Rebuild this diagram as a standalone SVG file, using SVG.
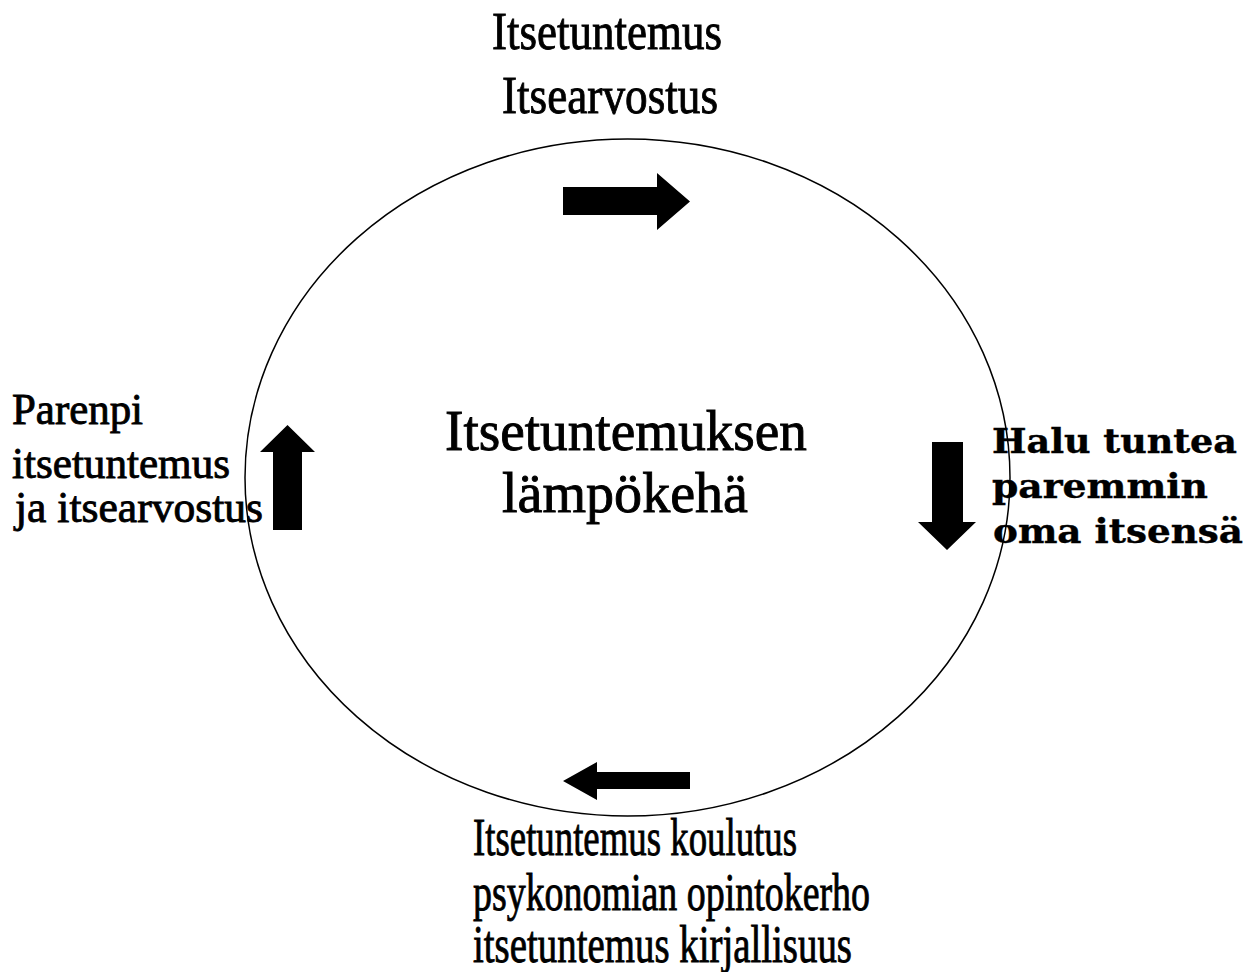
<svg xmlns="http://www.w3.org/2000/svg" width="1258" height="972" viewBox="0 0 1258 972">
  <style>
    .lbl { font-family: "Liberation Serif", "Times New Roman", serif; fill: #000; stroke: #000; stroke-width: 0.9; }
    .bold { font-family: "DejaVu Serif", "Liberation Serif", serif; font-weight: bold; fill: #000; stroke: #000; stroke-width: 0.4; }
    .ring { fill: none; stroke: #000; stroke-width: 1.5; }
    .arrow { fill: #000; stroke: none; }
  </style>
  <rect width="1258" height="972" fill="#fff"/>

  <!-- central cycle -->
  <g id="cycle">
    <ellipse class="ring" cx="627.5" cy="477.5" rx="382.5" ry="338.5"/>
    <text class="lbl" font-size="56" x="445" y="450" textLength="362" lengthAdjust="spacingAndGlyphs">Itsetuntemuksen</text>
    <text class="lbl" font-size="56" x="502" y="512" textLength="246" lengthAdjust="spacingAndGlyphs">lämpökehä</text>
  </g>

  <!-- top label -->
  <g id="top-label">
    <text class="lbl" font-size="53" x="492" y="49" textLength="230" lengthAdjust="spacingAndGlyphs">Itsetuntemus</text>
    <text class="lbl" font-size="53" x="502" y="113" textLength="216" lengthAdjust="spacingAndGlyphs">Itsearvostus</text>
  </g>

  <!-- right label -->
  <g id="right-label">
    <text class="bold" font-size="34" x="992" y="453" textLength="245" lengthAdjust="spacingAndGlyphs">Halu tuntea</text>
    <text class="bold" font-size="34" x="992" y="498" textLength="216" lengthAdjust="spacingAndGlyphs">paremmin</text>
    <text class="bold" font-size="34" x="993" y="543" textLength="250" lengthAdjust="spacingAndGlyphs">oma itsensä</text>
  </g>

  <!-- bottom label -->
  <g id="bottom-label">
    <text class="lbl" font-size="53" x="473" y="855" textLength="324" lengthAdjust="spacingAndGlyphs">Itsetuntemus koulutus</text>
    <text class="lbl" font-size="53" x="473" y="910" textLength="397" lengthAdjust="spacingAndGlyphs">psykonomian opintokerho</text>
    <text class="lbl" font-size="53" x="473" y="962" textLength="379" lengthAdjust="spacingAndGlyphs">itsetuntemus kirjallisuus</text>
  </g>

  <!-- left label -->
  <g id="left-label">
    <text class="lbl" font-size="44" x="12" y="424" textLength="131" lengthAdjust="spacingAndGlyphs">Parenpi</text>
    <text class="lbl" font-size="44" x="12" y="478" textLength="218" lengthAdjust="spacingAndGlyphs">itsetuntemus</text>
    <text class="lbl" font-size="44" x="15" y="522" textLength="248" lengthAdjust="spacingAndGlyphs">ja itsearvostus</text>
  </g>

  <!-- block arrows showing the direction of the cycle -->
  <g id="connectors">
    <polygon class="arrow" points="563,187 657,187 657,173 690,201.5 657,230 657,215 563,215"/>
    <polygon class="arrow" points="932,442 963,442 963,522 976,522 947,550 918,522 932,522"/>
    <polygon class="arrow" points="690,772 597,772 597,762 563,781 597,800 597,789 690,789"/>
    <polygon class="arrow" points="273,530 273,452 260,452 287.5,425 315,452 302,452 302,530"/>
  </g>
</svg>
